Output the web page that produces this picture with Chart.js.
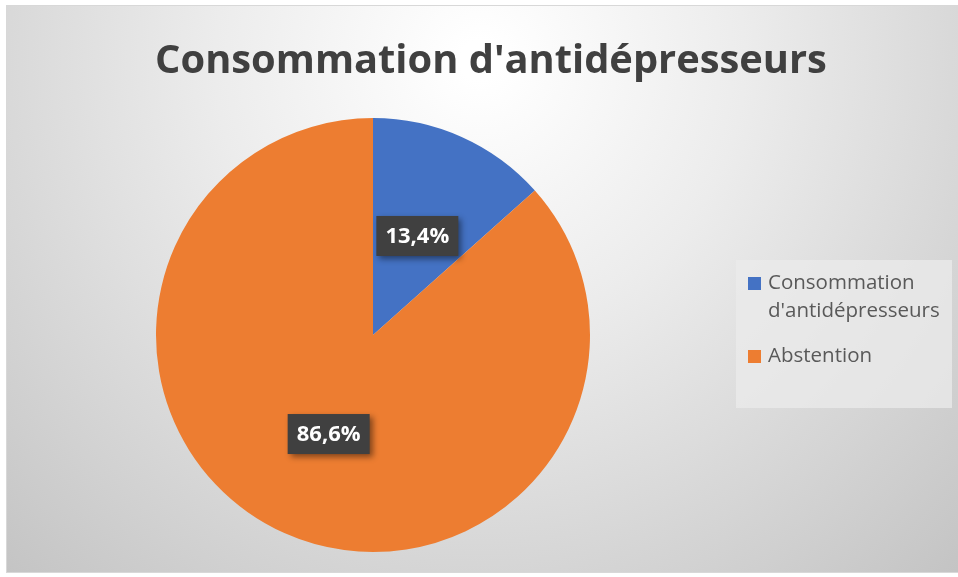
<!DOCTYPE html>
<html>
<head>
<meta charset="utf-8">
<script src="https://cdn.jsdelivr.net/npm/chart.js@4/dist/chart.umd.min.js"></script>
<style>
  html, body { margin: 0; padding: 0; background: #fff; }
  #wrap { width: 958px; height: 577px; position: relative; }
</style>
</head>
<body>
<div id="wrap"><canvas id="myChart" width="958" height="577"></canvas></div>
<script>
let titre = "Consommation d'antidépresseurs";
let categories = [["Consommation", "d'antidépresseurs"], ["Abstention"]];
let valeurs = [13.4, 86.6];
let etiquettes = ["13,4%", "86,6%"];
let couleurs = ["#4472C4", "#ED7D31"];

// fond gris en degrade + titre + legende
const fond = {
  id: "fond",
  beforeDraw(chart) {
    const c = chart.ctx;
    c.save();
    c.fillStyle = "#fff";
    c.fillRect(0, 0, chart.width, chart.height);
    let g = c.createRadialGradient(480, 60, 20, 480, 60, 720);
    g.addColorStop(0, "#ffffff");
    g.addColorStop(0.35, "#ececec");
    g.addColorStop(1, "#c2c2c2");
    c.fillStyle = g;
    c.fillRect(6, 5, 952, 568);
    c.strokeStyle = "#d8d8d8";
    c.lineWidth = 1;
    c.strokeRect(6.5, 5.5, 952, 567);

    // titre
    let taille = 40;
    c.font = "bold " + taille + "px 'Open Sans'";
    let w = c.measureText(titre).width;
    taille = taille * 672 / w;
    c.font = "bold " + taille + "px 'Open Sans'";
    c.fillStyle = "#404040";
    c.textAlign = "center";
    c.textBaseline = "alphabetic";
    c.fillText(titre, 491, 73);

    // legende
    c.fillStyle = "rgba(235,235,235,0.75)";
    c.fillRect(736, 260, 216, 148);
    c.font = "20.5px 'Open Sans'";
    c.textAlign = "left";
    c.textBaseline = "middle";
    let lignes = [283, 356];
    categories.forEach((cat, i) => {
      c.fillStyle = couleurs[i];
      c.fillRect(748, lignes[i] - 6, 13, 13);
      c.fillStyle = "#595959";
      cat.forEach((t, j) => {
        c.fillText(t, 768, lignes[i] + j * 28);
      });
    });
    c.restore();
  }
};

// etiquettes de donnees
const etiq = {
  id: "etiq",
  afterDatasetsDraw(chart) {
    const c = chart.ctx;
    const meta = chart.getDatasetMeta(0);
    c.save();
    c.font = "bold 22px 'Open Sans'";
    c.textAlign = "center";
    c.textBaseline = "middle";
    meta.data.forEach((arc, i) => {
      let p = arc.tooltipPosition();
      let x = p.x, y = p.y;
      c.save();
      c.shadowColor = "rgba(0,0,0,0.45)";
      c.shadowBlur = 6;
      c.shadowOffsetX = 3;
      c.shadowOffsetY = 3;
      c.fillStyle = "#404040";
      c.fillRect(x - 41, y - 20, 82, 40);
      c.restore();
      c.fillStyle = "#ffffff";
      c.fillText(etiquettes[i], x, y + 1);
    });
    c.restore();
  }
};

new Chart(document.getElementById("myChart"), {
  type: "pie",
  data: {
    labels: categories.map(c => c.join(" ")),
    datasets: [{
      data: valeurs,
      backgroundColor: couleurs,
      borderWidth: 0
    }]
  },
  options: {
    responsive: false,
    animation: false,
    layout: { padding: { left: 156, right: 368, top: 118, bottom: 25 } },
    plugins: {
      legend: { display: false },
      tooltip: { enabled: false },
      title: { display: false }
    }
  },
  plugins: [fond, etiq]
});
</script>
</body>
</html>
